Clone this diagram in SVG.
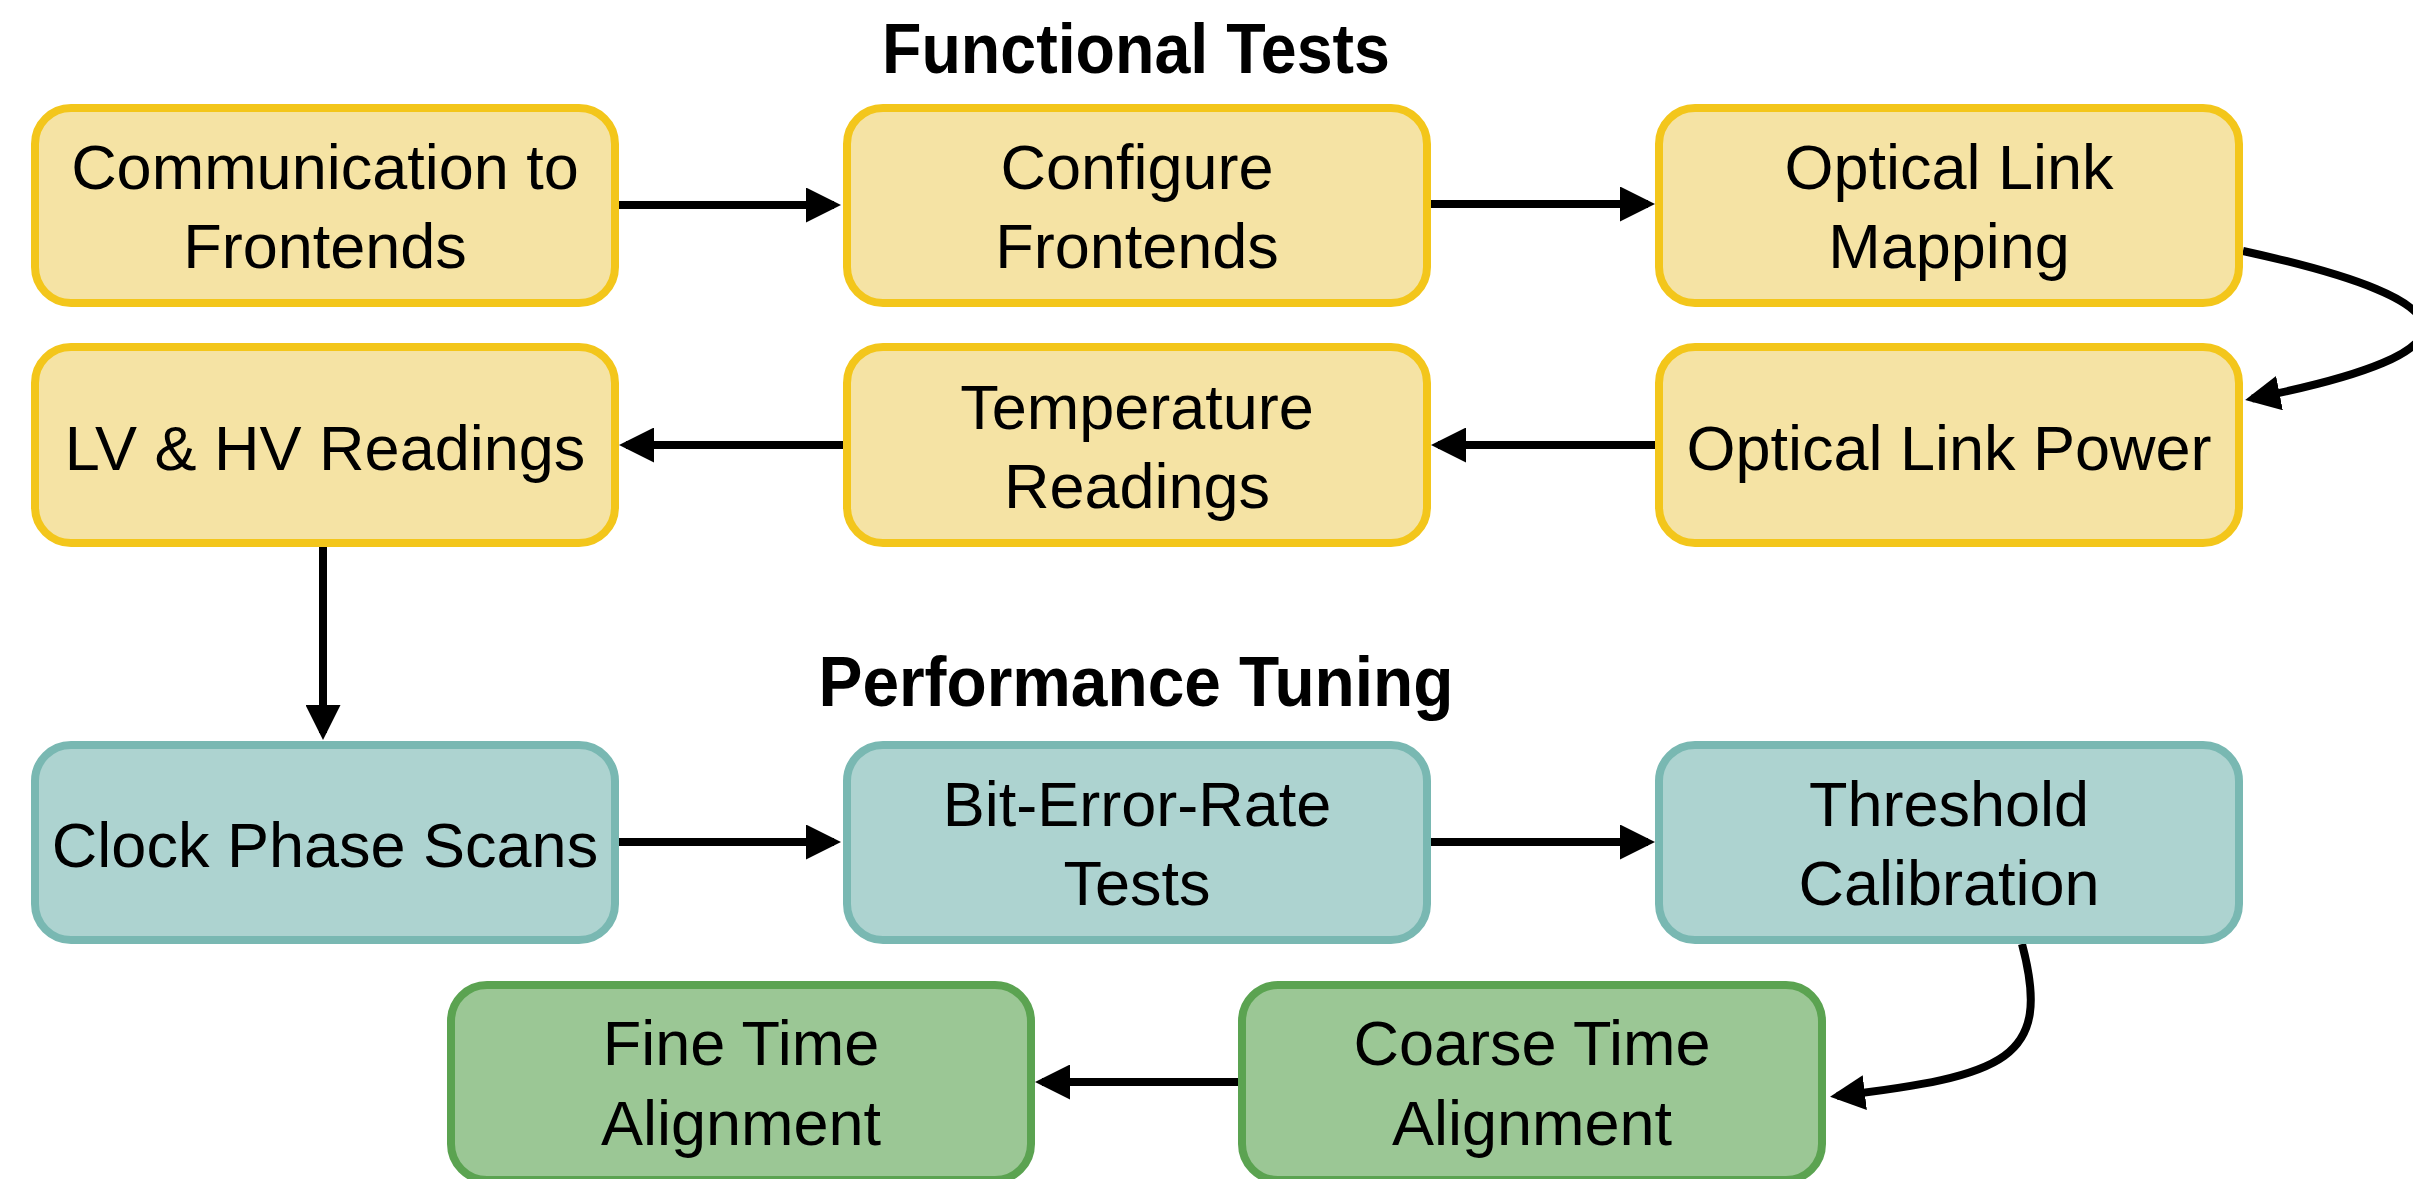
<svg xmlns="http://www.w3.org/2000/svg" width="2413" height="1179" viewBox="0 0 2413 1179">
  <style>
    .box rect { stroke-width: 8; }
    .func rect { fill: #F5E3A4; stroke: #F3C61B; }
    .perf rect { fill: #ADD3D0; stroke: #79B8B2; }
    .time rect { fill: #9BC795; stroke: #5BA351; }
    .lbl { font-family: "Liberation Sans", Arial, sans-serif; font-size: 63px; fill: #000; text-anchor: middle; }
    .title { font-family: "Liberation Sans", Arial, sans-serif; font-size: 70px; font-weight: bold; fill: #000; text-anchor: middle; }
    .edge { fill: none; stroke: #000; stroke-width: 8; marker-end: url(#head); }
  </style>
  <defs>
    <marker id="head" markerUnits="userSpaceOnUse" markerWidth="35" markerHeight="35" refX="28" refY="17.5" orient="auto">
      <path d="M0,0 L35,17.5 L0,35 z" fill="#000"/>
    </marker>
  </defs>

  <rect width="2413" height="1179" fill="#fff"/>

  <!-- section headings -->
  <text class="title" x="1136" y="73" textLength="508" lengthAdjust="spacingAndGlyphs">Functional Tests</text>
  <text class="title" x="1136" y="706" textLength="635" lengthAdjust="spacingAndGlyphs">Performance Tuning</text>

  <!-- connectors -->
  <g id="connectors">
    <path class="edge" d="M619,205 H834"/>
    <path class="edge" d="M1431,204 H1648"/>
    <path class="edge" d="M2243,251 C2477,302 2487,352 2252,398.6"/>
    <path class="edge" d="M1655,445 H1438"/>
    <path class="edge" d="M843,445 H626"/>
    <path class="edge" d="M323,547 V733"/>
    <path class="edge" d="M619,842 H834"/>
    <path class="edge" d="M1431,842 H1648"/>
    <path class="edge" d="M2022,944 C2053,1060 2005,1076 1837,1096"/>
    <path class="edge" d="M1238,1082 H1042"/>
  </g>

  <!-- functional tests -->
  <g id="comm-frontends" class="box func">
    <rect x="35" y="108" width="580" height="195" rx="36"/>
    <text class="lbl" x="325" y="189">Communication to</text>
    <text class="lbl" x="325" y="268">Frontends</text>
  </g>
  <g id="configure-frontends" class="box func">
    <rect x="847" y="108" width="580" height="195" rx="36"/>
    <text class="lbl" x="1137" y="189">Configure</text>
    <text class="lbl" x="1137" y="268">Frontends</text>
  </g>
  <g id="optical-link-mapping" class="box func">
    <rect x="1659" y="108" width="580" height="195" rx="36"/>
    <text class="lbl" x="1949" y="189">Optical Link</text>
    <text class="lbl" x="1949" y="268">Mapping</text>
  </g>
  <g id="lv-hv-readings" class="box func">
    <rect x="35" y="347" width="580" height="196" rx="36"/>
    <text class="lbl" x="325" y="470">LV &amp; HV Readings</text>
  </g>
  <g id="temperature-readings" class="box func">
    <rect x="847" y="347" width="580" height="196" rx="36"/>
    <text class="lbl" x="1137" y="429">Temperature</text>
    <text class="lbl" x="1137" y="508">Readings</text>
  </g>
  <g id="optical-link-power" class="box func">
    <rect x="1659" y="347" width="580" height="196" rx="36"/>
    <text class="lbl" x="1949" y="470">Optical Link Power</text>
  </g>

  <!-- performance tuning -->
  <g id="clock-phase-scans" class="box perf">
    <rect x="35" y="745" width="580" height="195" rx="36"/>
    <text class="lbl" x="325" y="867">Clock Phase Scans</text>
  </g>
  <g id="bit-error-rate" class="box perf">
    <rect x="847" y="745" width="580" height="195" rx="36"/>
    <text class="lbl" x="1137" y="826">Bit-Error-Rate</text>
    <text class="lbl" x="1137" y="905">Tests</text>
  </g>
  <g id="threshold-calibration" class="box perf">
    <rect x="1659" y="745" width="580" height="195" rx="36"/>
    <text class="lbl" x="1949" y="826">Threshold</text>
    <text class="lbl" x="1949" y="905">Calibration</text>
  </g>

  <!-- timing -->
  <g id="fine-time-alignment" class="box time">
    <rect x="451" y="985" width="580" height="195" rx="36"/>
    <text class="lbl" x="741" y="1065">Fine Time</text>
    <text class="lbl" x="741" y="1145">Alignment</text>
  </g>
  <g id="coarse-time-alignment" class="box time">
    <rect x="1242" y="985" width="580" height="195" rx="36"/>
    <text class="lbl" x="1532" y="1065">Coarse Time</text>
    <text class="lbl" x="1532" y="1145">Alignment</text>
  </g>
</svg>
